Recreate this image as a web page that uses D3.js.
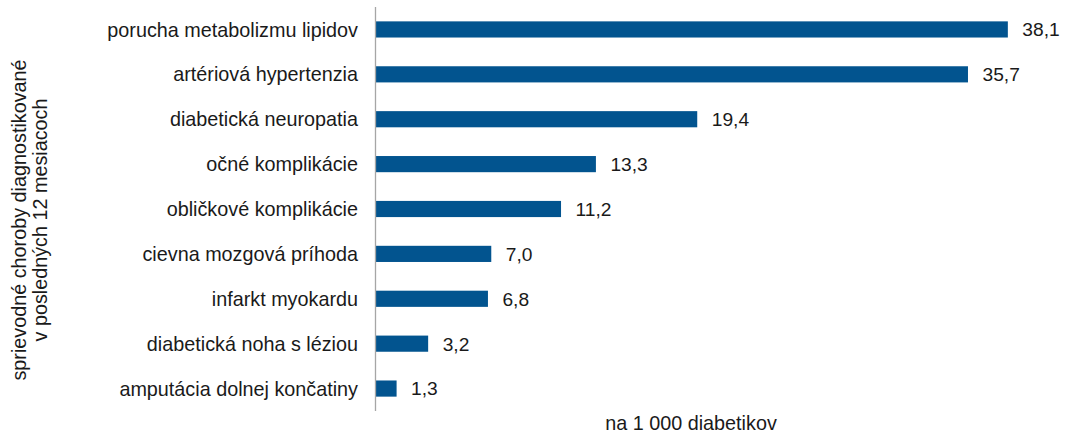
<!DOCTYPE html>
<html><head><meta charset="utf-8">
<script src="https://cdn.jsdelivr.net/npm/d3@7"></script>
<style>body{margin:0;background:#fff}svg{display:block}text{font-family:"Liberation Sans",Arial,sans-serif;fill:#1a1a1a}</style>
</head><body><svg id="c" width="1067" height="434"></svg>
<script>
const categories = ["porucha metabolizmu lipidov","artériová hypertenzia","diabetická neuropatia","očné komplikácie","obličkové komplikácie","cievna mozgová príhoda","infarkt myokardu","diabetická noha s léziou","amputácia dolnej končatiny"];
const values = [38.1,35.7,19.4,13.3,11.2,7.0,6.8,3.2,1.3];
const yTitleLines = ["sprievodné choroby diagnostikované","v posledných 12 mesiacoch"];
const xTitle = "na 1 000 diabetikov";

const svg = d3.select("#c");
const fs = 19.8, vfs = 19.2;
const x = d3.scaleLinear().domain([0,40]).range([375,375+40*16.61]);
const y = d3.scaleBand().domain(categories).range([7,411]).paddingInner(0.64).paddingOuter(0.32);

svg.selectAll("rect.bar").data(values).join("rect").attr("class","bar")
  .attr("x",x(0)).attr("y",(d,i)=>y(categories[i]))
  .attr("width",d=>x(d)-x(0)).attr("height",y.bandwidth()).attr("fill","#02548f");

svg.selectAll("text.val").data(values).join("text").attr("class","val")
  .attr("x",d=>x(d)+14.5).attr("y",(d,i)=>y(categories[i])+y.bandwidth()/2).attr("dy","0.36em")
  .style("font-size",vfs+"px").text(d=>d3.format(".1f")(d).replace(".",","));

const ax = svg.append("g").attr("transform",`translate(${x(0)},0)`).call(d3.axisLeft(y).tickSize(0).tickPadding(17));
ax.select(".domain").attr("stroke","#a6a6a6").attr("stroke-width",1.3).attr("d","M0.5,7V411");
ax.selectAll("text").style("font-size",fs+"px").style("font-family",'"Liberation Sans",Arial,sans-serif').attr("fill","#1a1a1a").attr("dy","0.36em");

const yt = svg.append("text").attr("transform","translate(26,220) rotate(-90)").attr("text-anchor","middle").style("font-size",fs+"px");
yTitleLines.forEach((l,i)=>yt.append("tspan").attr("x",0).attr("dy",i?21:0).text(l));

svg.append("text").attr("x",691).attr("y",430).attr("text-anchor","middle").style("font-size",fs+"px").text(xTitle);
</script></body></html>
